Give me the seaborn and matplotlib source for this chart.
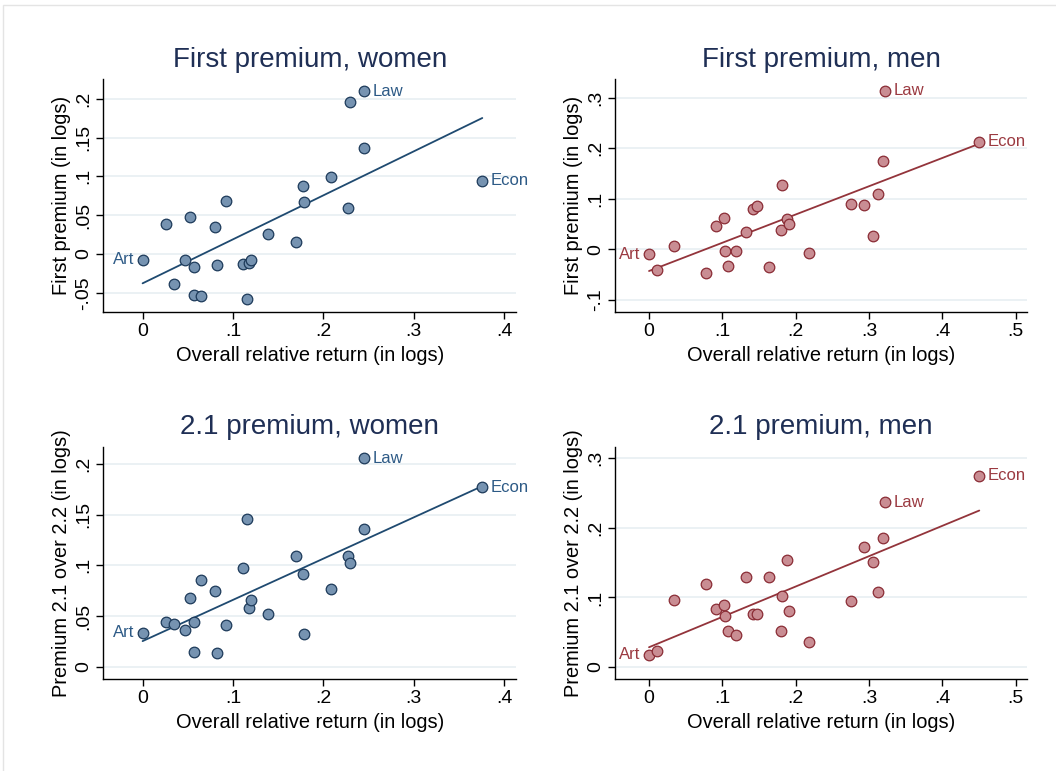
import numpy as np
import pandas as pd
import matplotlib
matplotlib.use("Agg")
import matplotlib.pyplot as plt
import seaborn as sns
from matplotlib.ticker import FixedLocator, FixedFormatter
from matplotlib.patches import Rectangle

# ---------------- data ----------------
women_return = [0.0, 0.0255, 0.0343, 0.0465, 0.0524, 0.0572, 0.0565, 0.0646, 0.0801, 0.0823,
                0.0923, 0.1107, 0.1155, 0.1177, 0.1203, 0.1384, 0.1701, 0.1775, 0.1790, 0.2089,
                0.2273, 0.2299, 0.2454, 0.2454, 0.3760]
women_first = [-0.0073, 0.0386, -0.0382, -0.0082, 0.0480, -0.0167, -0.0532, -0.0540, 0.0352, -0.0137,
               0.0687, -0.0129, -0.0584, -0.0112, -0.0082, 0.0258, 0.0155, 0.0871, 0.0670, 0.0987,
               0.0592, 0.1957, 0.1365, 0.2099, 0.0944]
women_21 = [0.0338, 0.0443, 0.0423, 0.0361, 0.0679, 0.0446, 0.0148, 0.0859, 0.0748, 0.0138,
            0.0413, 0.0974, 0.1459, 0.0577, 0.0656, 0.0521, 0.1089, 0.0911, 0.0321, 0.0764,
            0.1089, 0.1023, 0.1361, 0.2052, 0.1767]
women_names = ["Art"] + [""] * 22 + ["Law", "Econ"]

men_return = [0.0, 0.0114, 0.0341, 0.0777, 0.0918, 0.1027, 0.1036, 0.1082, 0.1182, 0.1323,
              0.1423, 0.1473, 0.1632, 0.1800, 0.1814, 0.1886, 0.1909, 0.2177, 0.2750, 0.2932,
              0.3055, 0.3127, 0.3195, 0.3218, 0.4505]
men_first = [-0.0099, -0.0416, 0.0059, -0.0462, 0.0462, 0.0620, -0.0026, -0.0337, -0.0026, 0.0343,
             0.0792, 0.0858, -0.0356, 0.0376, 0.1274, 0.0607, 0.0508, -0.0066, 0.0904, 0.0884,
             0.0264, 0.1089, 0.1756, 0.3142, 0.2125]
men_21 = [0.0173, 0.0230, 0.0958, 0.1188, 0.0834, 0.0891, 0.0738, 0.0522, 0.0465, 0.1299,
          0.0762, 0.0767, 0.1299, 0.0522, 0.1025, 0.1533, 0.0805, 0.0364, 0.0949, 0.1725,
          0.1505, 0.1073, 0.1859, 0.2367, 0.2746]
men_names = ["Art"] + [""] * 22 + ["Law", "Econ"]

titles = ["First premium, women", "First premium, men", "2.1 premium, women", "2.1 premium, men"]
ylabels = ["First premium (in logs)", "First premium (in logs)",
           "Premium 2.1 over 2.2 (in logs)", "Premium 2.1 over 2.2 (in logs)"]
xlabel = "Overall relative return (in logs)"

women_xticks = [0, 0.1, 0.2, 0.3, 0.4]
women_xticklabels = ["0", ".1", ".2", ".3", ".4"]
men_xticks = [0, 0.1, 0.2, 0.3, 0.4, 0.5]
men_xticklabels = ["0", ".1", ".2", ".3", ".4", ".5"]
first_women_yticks = [-0.05, 0, 0.05, 0.1, 0.15, 0.2]
first_women_yticklabels = ["-.05", "0", ".05", ".1", ".15", ".2"]
first_men_yticks = [-0.1, 0, 0.1, 0.2, 0.3]
first_men_yticklabels = ["-.1", "0", ".1", ".2", ".3"]
p21_women_yticks = [0, 0.05, 0.1, 0.15, 0.2]
p21_women_yticklabels = ["0", ".05", ".1", ".15", ".2"]
p21_men_yticks = [0, 0.1, 0.2, 0.3]
p21_men_yticklabels = ["0", ".1", ".2", ".3"]

# ---------------- style ----------------
sns.set_theme(style="white")
plt.rcParams["font.family"] = ["Liberation Sans", "DejaVu Sans"]

W, H = 1056, 771
fig = plt.figure(figsize=(W / 100, H / 100), dpi=100)
fig.patch.set_facecolor("white")

# faint frame of the cropped page
fig.add_artist(Rectangle((3 / W, -0.1), 1.2, 1 - 5 / H + 0.1, transform=fig.transFigure,
                         fill=False, edgecolor="#e4e4e4", linewidth=1))

women_style = dict(fill="#7693b1", edge="#1d3a5a", line="#1f4a70", text="#2d5a86")
men_style = dict(fill="#c98d93", edge="#8a2c35", line="#93343b", text="#9b3a41")
title_color = "#1f2f55"
grid_color = "#e6eef1"

def px_axes(left, right, top, bottom):
    return [left / W, 1 - bottom / H, (right - left) / W, (bottom - top) / H]

panels = [
    dict(pos=px_axes(103.3, 516, 79.3, 312), x=women_return, y=women_first, names=women_names,
         st=women_style, xt=women_xticks, xtl=women_xticklabels, yt=first_women_yticks,
         ytl=first_women_yticklabels, xlim=(-0.0435, 0.4133), ylim=(-0.0747, 0.225)),
    dict(pos=px_axes(615, 1027.3, 79.3, 312), x=men_return, y=men_first, names=men_names,
         st=men_style, xt=men_xticks, xtl=men_xticklabels, yt=first_men_yticks,
         ytl=first_men_yticklabels, xlim=(-0.0464, 0.516), ylim=(-0.124, 0.3366)),
    dict(pos=px_axes(103.3, 516, 446.7, 679.3), x=women_return, y=women_21, names=women_names,
         st=women_style, xt=women_xticks, xtl=women_xticklabels, yt=p21_women_yticks,
         ytl=p21_women_yticklabels, xlim=(-0.0435, 0.4133), ylim=(-0.0121, 0.2167)),
    dict(pos=px_axes(615, 1027.3, 446.7, 679.3), x=men_return, y=men_21, names=men_names,
         st=men_style, xt=men_xticks, xtl=men_xticklabels, yt=p21_men_yticks,
         ytl=p21_men_yticklabels, xlim=(-0.0464, 0.516), ylim=(-0.0177, 0.3167)),
]

for i, p in enumerate(panels):
    ax = fig.add_axes(p["pos"])
    df = pd.DataFrame({"x": p["x"], "y": p["y"], "name": p["names"]})
    st = p["st"]
    ax.set_xlim(*p["xlim"])
    ax.set_ylim(*p["ylim"])
    for yv in p["yt"]:
        ax.axhline(yv, color=grid_color, linewidth=1.1, zorder=0)
    sns.regplot(data=df, x="x", y="y", ax=ax, scatter=False, ci=None, truncate=True,
                line_kws=dict(color=st["line"], linewidth=1.3, zorder=2))
    sns.scatterplot(data=df, x="x", y="y", ax=ax, s=58, color=st["fill"],
                    edgecolor=st["edge"], linewidth=0.9, zorder=3, legend=False)
    for _, r in df.iterrows():
        if r["name"] == "":
            continue
        if r["name"] == "Art":
            ax.annotate(r["name"], (r["x"], r["y"]), xytext=(-6, 0), textcoords="offset points",
                        ha="right", va="center", fontsize=12, color=st["text"],
                        annotation_clip=False)
        else:
            ax.annotate(r["name"], (r["x"], r["y"]), xytext=(6, 0), textcoords="offset points",
                        ha="left", va="center", fontsize=12, color=st["text"],
                        annotation_clip=False)
    ax.xaxis.set_major_locator(FixedLocator(p["xt"]))
    ax.xaxis.set_major_formatter(FixedFormatter(p["xtl"]))
    ax.yaxis.set_major_locator(FixedLocator(p["yt"]))
    ax.yaxis.set_major_formatter(FixedFormatter(p["ytl"]))
    for s in ["top", "right"]:
        ax.spines[s].set_visible(False)
    for s in ["left", "bottom"]:
        ax.spines[s].set_color("black")
        ax.spines[s].set_linewidth(1.0)
    ax.tick_params(axis="both", direction="out", length=5, width=1, color="black",
                   labelsize=14, labelcolor="black", pad=3, bottom=True, left=True)
    for lab in ax.get_yticklabels():
        lab.set_rotation(90)
        lab.set_va("center")
        lab.set_ha("right")
    ax.set_xlabel(xlabel, fontsize=14.4, color="black", labelpad=4)
    ax.set_ylabel(ylabels[i], fontsize=14.4, color="black", labelpad=3)
    ax.set_title(titles[i], fontsize=20, color=title_color, pad=9)
    ax.set_facecolor("white")

fig.savefig("out.png", dpi=100, facecolor="white")
